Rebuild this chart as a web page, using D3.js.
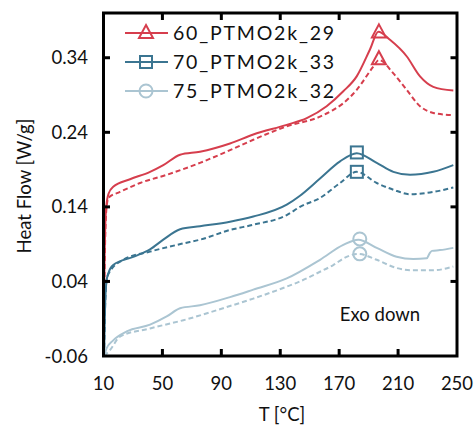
<!DOCTYPE html>
<html><head><meta charset="utf-8">
<script src="https://cdn.jsdelivr.net/npm/d3@7"></script>
<style>body{margin:0;background:#fff}svg{display:block}text{font-family:Lato,"Open Sans",sans-serif;fill:#111}</style>
</head><body><svg id="c" width="476" height="427"></svg>
<script>
const seriesNames = ["60_PTMO2k_29","70_PTMO2k_33","75_PTMO2k_32"];
const seriesColors = ["#d63e4d","#3b7591","#abc5d2"];
const markerShapes = ["triangle","square","circle"];
const xTicks = [10,50,90,130,170,210,250];
const yTicks = [-0.06,0.04,0.14,0.24,0.34];
const yTickLabels = ["-0.06","0.04","0.14","0.24","0.34"];

const redSolid = [[10.1,-0.04],[10.6,0.05],[11.5,0.13],[12.5,0.15],[13.5,0.158],[16.6,0.167],[28,0.177],[41.6,0.187],[50.6,0.196],[62,0.21],[75.5,0.214],[95.9,0.225],[111.7,0.237],[134.4,0.25],[148,0.259],[161.5,0.275],[172.8,0.295],[181.9,0.315],[190.9,0.351],[196.6,0.375],[204.5,0.364],[215.8,0.342],[224.9,0.315],[233.9,0.301],[247.5,0.296]];
const redDashed = [[10.1,-0.04],[10.7,0.05],[11.7,0.13],[13.3,0.152],[21.2,0.16],[34.8,0.172],[52.9,0.183],[75.5,0.199],[95.9,0.216],[111.7,0.23],[134.4,0.248],[157,0.261],[166,0.27],[172.8,0.279],[181.9,0.297],[193.2,0.328],[197,0.337],[206.8,0.319],[215.8,0.297],[224.9,0.275],[233.9,0.266],[247.5,0.263]];
const blueSolid = [[10.4,-0.06],[11,0.0],[12,0.04],[13.3,0.051],[16.6,0.062],[30.2,0.073],[41.6,0.083],[50.6,0.096],[62,0.11],[75.5,0.114],[95.9,0.12],[111.7,0.127],[134.4,0.143],[143.4,0.155],[157,0.178],[170.6,0.201],[181.9,0.212],[195.5,0.199],[206.8,0.187],[218.1,0.183],[233.9,0.187],[247.5,0.196]];
const blueDashed = [[10.4,-0.06],[11,0.0],[12,0.04],[13.3,0.05],[23.4,0.069],[41.6,0.08],[64.2,0.091],[75.5,0.096],[95.9,0.109],[111.7,0.116],[134.4,0.129],[143.4,0.14],[157,0.152],[170.6,0.172],[181.9,0.187],[195.5,0.172],[206.8,0.163],[218.1,0.157],[233.9,0.16],[247.5,0.166]];
const lightSolid = [[10.5,-0.06],[12,-0.05],[16.6,-0.039],[25.8,-0.027],[41.6,-0.018],[52.9,-0.007],[62,0.004],[75.5,0.008],[95.9,0.019],[111.7,0.029],[134.4,0.044],[157,0.069],[172.8,0.089],[183,0.096],[195.5,0.085],[209,0.073],[220.3,0.07],[229.4,0.071],[231.5,0.078],[233,0.081],[238.4,0.082],[247.5,0.085]];
const lightDashed = [[10.5,-0.06],[14.4,-0.052],[21.2,-0.034],[41.6,-0.023],[64.2,-0.012],[95.9,0.007],[111.7,0.017],[134.4,0.033],[143.4,0.04],[157,0.053],[166,0.062],[175,0.073],[183,0.077],[195.5,0.069],[209,0.058],[220.3,0.055],[233.9,0.055],[247.5,0.06]];
const peakMarkers = [[[197,0.374],[197,0.338]],[[182,0.213],[182,0.187]],[[184,0.097],[184,0.077]]];

const svg = d3.select("#c");
const x = d3.scaleLinear().domain([10,250]).range([103.5,457]);
const y = d3.scaleLinear().domain([-0.06,0.40]).range([356,13]);

const lines = [[redSolid,redDashed],[blueSolid,blueDashed],[lightSolid,lightDashed]];
const lineGen = d3.line().x(d=>x(d[0])).y(d=>y(d[1])).curve(d3.curveMonotoneX);

const g = svg.append("g");
lines.forEach((pair,i)=>{
  g.append("path").attr("d",lineGen(pair[1])).attr("fill","none").attr("stroke",seriesColors[i]).attr("stroke-width",2).attr("stroke-dasharray","5,3");
  g.append("path").attr("d",lineGen(pair[0])).attr("fill","none").attr("stroke",seriesColors[i]).attr("stroke-width",2);
});

function marker(sel, shape, cx, cy, color){
  if(shape==="triangle"){
    sel.append("path").attr("d",`M${cx},${cy-8}L${cx+7},${cy+5}L${cx-7},${cy+5}Z`).attr("fill","none").attr("stroke",color).attr("stroke-width",2);
  } else if(shape==="square"){
    sel.append("rect").attr("x",cx-6).attr("y",cy-6).attr("width",12).attr("height",12).attr("fill","none").attr("stroke",color).attr("stroke-width",2);
  } else {
    sel.append("circle").attr("cx",cx).attr("cy",cy).attr("r",6.5).attr("fill","none").attr("stroke",color).attr("stroke-width",2);
  }
}
peakMarkers.forEach((pts,i)=>pts.forEach(p=>marker(g,markerShapes[i],x(p[0]),y(p[1]),seriesColors[i])));

// frame & ticks
svg.append("rect").attr("x",103.5).attr("y",13).attr("width",457-103.5).attr("height",343).attr("fill","none").attr("stroke","#000").attr("stroke-width",3);
xTicks.slice(1,-1).forEach(t=>{
  svg.append("line").attr("x1",x(t)).attr("x2",x(t)).attr("y1",356).attr("y2",349).attr("stroke","#000").attr("stroke-width",3);
  svg.append("line").attr("x1",x(t)).attr("x2",x(t)).attr("y1",13).attr("y2",20).attr("stroke","#000").attr("stroke-width",3);
});
yTicks.slice(1).forEach(t=>{
  svg.append("line").attr("x1",103.5).attr("x2",110).attr("y1",y(t)).attr("y2",y(t)).attr("stroke","#000").attr("stroke-width",3);
  svg.append("line").attr("x1",457).attr("x2",450.5).attr("y1",y(t)).attr("y2",y(t)).attr("stroke","#000").attr("stroke-width",3);
});
xTicks.forEach(t=>svg.append("text").attr("x",x(t)).attr("y",390).attr("text-anchor","middle").attr("font-size",18.5).text(t));
yTicks.forEach((t,i)=>svg.append("text").attr("x",88).attr("y",y(t)+6.5).attr("text-anchor","end").attr("font-size",18.5).text(yTickLabels[i]));
svg.append("text").attr("x",282).attr("y",421).attr("text-anchor","middle").attr("font-size",18.5).text("T [°C]");
svg.append("text").attr("transform","translate(31,186) rotate(-90)").attr("text-anchor","middle").attr("font-size",18.5).text("Heat Flow [W/g]");
svg.append("text").attr("x",380).attr("y",321).attr("text-anchor","middle").attr("font-size",18.5).text("Exo down");

// legend
seriesNames.forEach((n,i)=>{
  const ly = 33 + i*29;
  svg.append("line").attr("x1",125).attr("x2",168).attr("y1",ly).attr("y2",ly).attr("stroke",seriesColors[i]).attr("stroke-width",2);
  marker(svg,markerShapes[i],146,ly,seriesColors[i]);
  svg.append("text").attr("x",173).attr("y",ly+7).attr("font-size",19.5).attr("letter-spacing","1.8px").text(n);
});
</script></body></html>
